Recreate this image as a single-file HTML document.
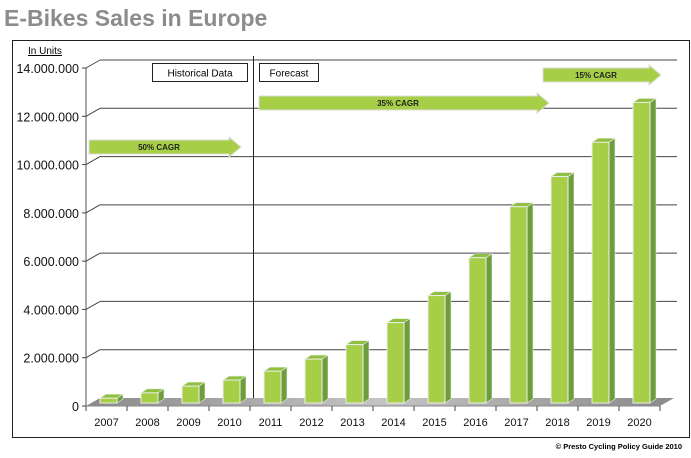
<!DOCTYPE html>
<html><head><meta charset="utf-8"><style>
body{margin:0;background:#fff;width:691px;height:453px;overflow:hidden;font-family:"Liberation Sans",sans-serif}
</style></head><body>
<svg id="c" width="691" height="453" xmlns="http://www.w3.org/2000/svg">
<defs><linearGradient id="fl" x1="0" y1="0" x2="1" y2="0"><stop offset="0" stop-color="#8a8a8a"/><stop offset="0.5" stop-color="#c4c4c4"/><stop offset="1" stop-color="#8a8a8a"/></linearGradient></defs>
<text x="4" y="26" font-size="23" font-weight="bold" fill="#8c8c8c">E-Bikes Sales in Europe</text>
<rect x="12.5" y="40.5" width="677" height="397" fill="none" stroke="#222"/>
<text x="28" y="54" font-size="10" text-decoration="underline" fill="#000">In Units</text>
<g id="grid"></g>
<g id="bars"></g>
<line x1="253.5" y1="56" x2="253.5" y2="398" stroke="#222"/>
<rect x="152.5" y="63.5" width="95" height="18" fill="#fff" stroke="#222"/>
<text x="200" y="76.5" font-size="10" text-anchor="middle">Historical Data</text>
<rect x="259.5" y="63.5" width="59" height="18" fill="#fff" stroke="#222"/>
<text x="289" y="76.5" font-size="10" text-anchor="middle">Forecast</text>
<g id="arrows"></g>
<text x="682" y="449" font-size="7.5" font-weight="bold" text-anchor="end" fill="#000">© Presto Cycling Policy Guide 2010</text>
</svg>
<script>
const categories=["2007","2008","2009","2010","2011","2012","2013","2014","2015","2016","2017","2018","2019","2020"];
const sales=[200000,420000,700000,950000,1320000,1820000,2420000,3330000,4450000,6020000,8130000,9380000,10800000,12450000];
const yTicks=[0,2000000,4000000,6000000,8000000,10000000,12000000,14000000];
const yTickLabels=["0","2.000.000","4.000.000","6.000.000","8.000.000","10.000.000","12.000.000","14.000.000"];
const NS="http://www.w3.org/2000/svg";
const x0=86,slot=41,y0=406,yTop=68,maxV=14000000,dx=14,dy=-8;
const Y=v=>y0-(v/maxV)*(y0-yTop);
const X=i=>x0+slot*(i+0.5);
function mk(t,a,p){const e=document.createElementNS(NS,t);for(const k in a)e.setAttribute(k,a[k]);p.appendChild(e);return e;}
const g=document.getElementById('grid');
const floor=mk('polygon',{points:`${x0},${y0} ${x0+dx},${y0+dy} ${x0+slot*14+dx},${y0+dy} ${x0+slot*14},${y0}`,fill:'url(#fl)'},g);


mk('line',{x1:x0,y1:y0,x2:x0,y2:yTop,stroke:'#aaa','stroke-width':2},g);
mk('line',{x1:x0,y1:y0,x2:x0+slot*14,y2:y0,stroke:'#888'},g);
yTicks.forEach((v,i)=>{
  const y=Y(v);
  if(v>0){
    mk('line',{x1:x0,y1:y,x2:x0+dx,y2:y+dy,stroke:'#444'},g);
    const gl=mk('line',{x1:x0+dx,y1:y+dy,x2:x0+slot*14+dx+3,y2:y+dy,stroke:'#444'},g);
    
    
  }
  mk('line',{x1:x0-4,y1:y,x2:x0,y2:y,stroke:'#444'},g);
  const t=mk('text',{x:x0-7,y:y+5,'font-size':12.5,'text-anchor':'end',fill:'#111'},g);
  t.textContent=yTickLabels[i];
  
  
});
for(let i=0;i<=14;i++)mk('line',{x1:x0+slot*i,y1:y0,x2:x0+slot*i,y2:y0+5,stroke:'#444'},g);
const b=document.getElementById('bars');
const w=17,bd=6,bdy=-4,base=403;
categories.forEach((c,i)=>{
  const cx=X(i)+2,l=cx-w/2,top=Y(sales[i])-3;
  const grp=mk('g',{},b);
  
  
  mk('polygon',{points:`${l+w},${base} ${l+w+bd},${base+bdy} ${l+w+bd},${top+bdy} ${l+w},${top}`,fill:'#6e9e3c',stroke:'#eee','stroke-width':0.6},grp);
  mk('polygon',{points:`${l},${top} ${l+bd},${top+bdy} ${l+w+bd},${top+bdy} ${l+w},${top}`,fill:'#8fc03f',stroke:'#eee','stroke-width':0.6},grp);
  mk('rect',{x:l,y:top,width:w,height:base-top,fill:'#a6cf47',stroke:'#eee','stroke-width':1},grp);
  const t=mk('text',{x:X(i),y:426,'font-size':11,'text-anchor':'middle',fill:'#111'},b);
  t.textContent=c;
  
  
});
const a=document.getElementById('arrows');
function arrow(x1,x2,yc,label,name){
  const h=14,hh=9,hl=12;
  const grp=mk('g',{},a);
  
  
  mk('polygon',{points:`${x1},${yc-h/2} ${x2-hl},${yc-h/2} ${x2-hl},${yc-hh-1} ${x2},${yc} ${x2-hl},${yc+hh+1} ${x2-hl},${yc+h/2} ${x1},${yc+h/2}`,fill:'#a6cf47',stroke:'#ddd','stroke-width':1},grp);
  const t=mk('text',{x:(x1+x2-hl)/2,y:yc+3,'font-size':8,'font-weight':'bold','text-anchor':'middle',fill:'#222'},grp);
  t.textContent=label;
}
arrow(89,241,147,"50% CAGR","arrow-50-cagr");
arrow(259,549,103,"35% CAGR","arrow-35-cagr");
arrow(543,661,75,"15% CAGR","arrow-15-cagr");
</script>
</body></html>
